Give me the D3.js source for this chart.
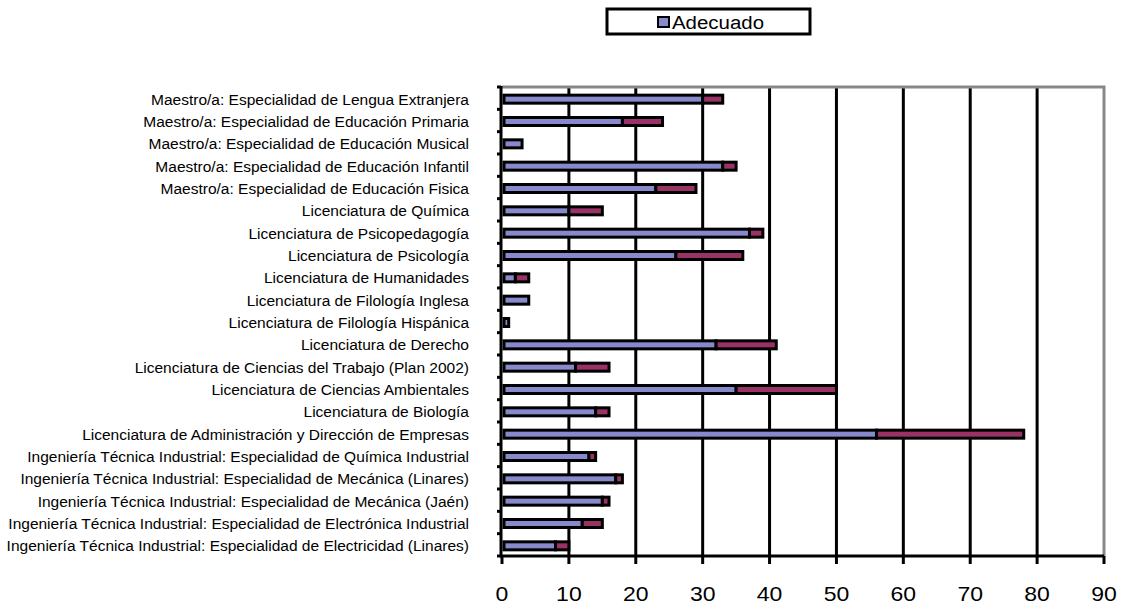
<!DOCTYPE html>
<html>
<head>
<meta charset="utf-8">
<script src="https://cdn.jsdelivr.net/npm/d3@7"></script>
<style>
  html, body { margin: 0; padding: 0; background: #fff; }
  svg { display: block; font-family: "Liberation Sans", Arial, sans-serif; }
</style>
</head>
<body>
<svg id="chart" width="1121" height="606"></svg>
<script>
const categories = [
  "Maestro/a: Especialidad de Lengua Extranjera",
  "Maestro/a: Especialidad de Educación Primaria",
  "Maestro/a: Especialidad de Educación Musical",
  "Maestro/a: Especialidad de Educación Infantil",
  "Maestro/a: Especialidad de Educación Fisica",
  "Licenciatura de Química",
  "Licenciatura de Psicopedagogía",
  "Licenciatura de Psicología",
  "Licenciatura de Humanidades",
  "Licenciatura de Filología Inglesa",
  "Licenciatura de Filología Hispánica",
  "Licenciatura de Derecho",
  "Licenciatura de Ciencias del Trabajo (Plan 2002)",
  "Licenciatura de Ciencias Ambientales",
  "Licenciatura de Biología",
  "Licenciatura de Administración y Dirección de Empresas",
  "Ingeniería Técnica Industrial: Especialidad de Química Industrial",
  "Ingeniería Técnica Industrial: Especialidad de Mecánica (Linares)",
  "Ingeniería Técnica Industrial: Especialidad de Mecánica (Jaén)",
  "Ingeniería Técnica Industrial: Especialidad de Electrónica Industrial",
  "Ingeniería Técnica Industrial: Especialidad de Electricidad (Linares)"
];
const adecuado = [30, 18, 3, 33, 23, 10, 37, 26, 2, 4, 1, 32, 11, 35, 14, 56, 13, 17, 15, 12, 8];
const otro     = [3, 6, 0, 2, 6, 5, 2, 10, 2, 0, 0, 9, 5, 15, 2, 22, 1, 1, 1, 3, 2];
const xTicks = [0, 10, 20, 30, 40, 50, 60, 70, 80, 90];
const legendLabels = ["Adecuado"];
const colors = ["#8888CC", "#993366"];

(function () {
const svg = d3.select("#chart");
const pL = 502, pR = 1104, pT = 87, pB = 556;

const x = d3.scaleLinear().domain([0, 90]).range([pL, pR]);
const y = d3.scaleBand().domain(categories).range([pT, pB]).paddingInner(0).paddingOuter(0);

// gridlines
svg.append("g").selectAll("line")
  .data(xTicks.filter(d => d > 0 && d < 90))
  .join("line")
  .attr("x1", d => x(d)).attr("x2", d => x(d))
  .attr("y1", pT).attr("y2", pB)
  .attr("stroke", "#000").attr("stroke-width", 3);

// plot border top/right (gray)
svg.append("path")
  .attr("d", `M${pL},${pT}H${pR}V${pB}`)
  .attr("fill", "none").attr("stroke", "#888").attr("stroke-width", 3);

const series = categories.map((c, i) => ({c, a: adecuado[i], b: otro[i]}));
const barH = 8;
const g = svg.append("g");
series.forEach(d => {
  const cy = y(d.c) + y.bandwidth() / 2 + 1;
  if (d.a > 0) {
    g.append("rect")
      .attr("x", x(0) + 2).attr("y", cy - barH / 2)
      .attr("width", x(d.a) - x(0) - 2).attr("height", barH)
      .attr("fill", colors[0]).attr("stroke", "#000").attr("stroke-width", 3);
  }
  if (d.b > 0) {
    g.append("rect")
      .attr("x", x(d.a)).attr("y", cy - barH / 2)
      .attr("width", x(d.a + d.b) - x(d.a)).attr("height", barH)
      .attr("fill", colors[1]).attr("stroke", "#000").attr("stroke-width", 3);
  }
});

// left axis line with ticks at band edges
svg.append("line")
  .attr("x1", pL - 1).attr("x2", pL - 1)
  .attr("y1", pT - 1).attr("y2", pB + 1)
  .attr("stroke", "#000").attr("stroke-width", 3);
svg.append("g").selectAll("line")
  .data(d3.range(categories.length + 1))
  .join("line")
  .attr("x1", pL - 5).attr("x2", pL - 1)
  .attr("y1", i => pT + i * y.step()).attr("y2", i => pT + i * y.step())
  .attr("stroke", "#000").attr("stroke-width", 3);

// category labels
svg.append("g").selectAll("text")
  .data(categories)
  .join("text")
  .attr("x", 469)
  .attr("y", d => y(d) + y.bandwidth() / 2 + 1)
  .attr("dy", "0.35em")
  .attr("text-anchor", "end")
  .attr("font-size", 15.5)
  .attr("fill", "#000")
  .text(d => d);

// bottom axis
svg.append("line")
  .attr("x1", pL - 2).attr("x2", pR)
  .attr("y1", pB).attr("y2", pB)
  .attr("stroke", "#000").attr("stroke-width", 3);
svg.append("g").selectAll("line")
  .data(xTicks)
  .join("line")
  .attr("x1", d => x(d)).attr("x2", d => x(d))
  .attr("y1", pB).attr("y2", pB + 8)
  .attr("stroke", "#000").attr("stroke-width", 3);
svg.append("g").selectAll("text")
  .data(xTicks)
  .join("text")
  .attr("transform", d => `translate(${x(d)},601) scale(1.15,1)`)
  .attr("text-anchor", "middle")
  .attr("font-size", 20)
  .attr("fill", "#000")
  .text(d => d);

// legend
const lg = svg.append("g");
lg.append("rect")
  .attr("x", 607).attr("y", 9).attr("width", 203).attr("height", 25)
  .attr("fill", "#fff").attr("stroke", "#000").attr("stroke-width", 3);
lg.append("rect")
  .attr("x", 658).attr("y", 17).attr("width", 11).attr("height", 10)
  .attr("fill", colors[0]).attr("stroke", "#000").attr("stroke-width", 2);
lg.append("text")
  .attr("x", 672).attr("y", 29)
  .attr("font-size", 18)
  .attr("textLength", 92)
  .attr("lengthAdjust", "spacingAndGlyphs")
  .attr("fill", "#000")
  .text(legendLabels[0]);
})();
</script>
</body>
</html>
